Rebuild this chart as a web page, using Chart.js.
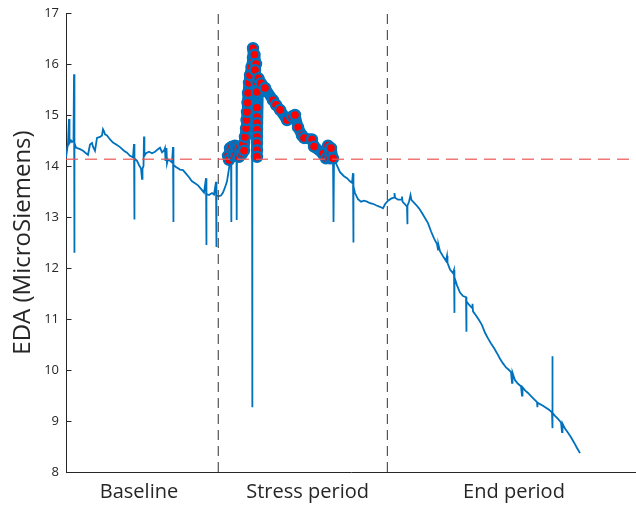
<!DOCTYPE html>
<html><head><meta charset="utf-8">
<script src="https://cdn.jsdelivr.net/npm/chart.js@4.4.0/dist/chart.umd.min.js"></script>
<style>html,body{margin:0;padding:0;background:#fff}#wrap{width:636px;height:505px}</style>
</head><body><div id="wrap"><canvas id="c" width="636" height="505"></canvas></div>
<script>
// ---- data ----
const periodLabels = ['Baseline', 'Stress period', 'End period'];
const periodLabelPos = [73, 241.6, 448];
const periodBounds = [152.3, 321.4];
const threshold = 14.13;
const yTicks = [8, 9, 10, 11, 12, 13, 14, 15, 16, 17];
const xRange = [0, 570];

const edaTime = [0,1,2,3,3.5,5,6,7.5,8,8.3,8.6,10,14,17,20,22,24,26,27,29,31,34,36,37,38,39,41,44,47,51,54,58,61,64,67,68,68.3,68.6,71,73,75,76,76.5,77.5,78,78.4,80,83,86,89,92,94,96,98,99,99.5,100.5,101,102,104,106,107,107.3,107.6,110,114,117,120,123,126,129,132,135,138,140,140.3,140.6,143,146,148,150,150.3,150.6,153,155,157,159,161,163,164.5,165,165.2,165.5,167,169,170.5,170.7,171,173,175,177,179,180,181,182,183,184,185,186,186.2,186.5,187,187.5,188.5,189,190,191,191.3,191.6,194,198,202,206,210,214,218,221,224,227,230,232,234,236,239,242,245,248,251,254,256,258,260,262,263.5,265,266,267,267.2,267.5,267.8,268,270,274,278,281,284,286,287,287.3,287.6,289,292,295,298,301,304,307,310,314,317,319,322,325,328,328.5,329,332,335,336,336.5,339,341,341.3,341.6,343,344.5,345.5,347,350,353,356,359,362,365,368,371,372,372.4,374,377,380,381,381.5,384,387,388,388.3,388.6,391,394,397,400,400.3,400.6,403,406,406.5,407,410,413,416,419,422,425,428,431,434,437,440,443,445,446,446.5,449,452,455,456,456.5,459,462,465,468,471,471.3,471.6,474,477,480,483,486,486.2,486.5,486.8,489,492,495,496,496.5,499,502,505,508,511,514];
const edaValue = [14.16,14.3,14.45,14.92,14.45,14.5,14.47,14.5,15.8,12.3,14.45,14.36,14.33,14.3,14.25,14.22,14.42,14.45,14.38,14.3,14.55,14.57,14.6,14.72,14.68,14.62,14.6,14.52,14.46,14.41,14.37,14.3,14.26,14.2,14.17,14.43,12.95,14.15,14.1,14.02,13.95,13.75,13.95,14.0,14.58,14.2,14.25,14.28,14.25,14.28,14.33,14.36,14.27,14.3,14.35,14.1,14.35,14.05,14.13,14.1,14.07,14.37,12.9,14.02,13.98,13.93,13.92,13.85,13.78,13.7,13.66,13.62,13.55,13.48,13.76,12.45,13.45,13.43,13.47,13.44,13.69,12.41,13.42,13.41,13.42,13.48,13.58,13.7,13.95,14.15,14.3,12.9,14.3,14.35,14.3,14.25,12.94,14.3,14.35,14.3,14.4,14.55,14.8,15.05,15.35,15.6,15.8,15.9,15.95,9.27,16.0,16.2,16.3,16.2,16.1,15.95,15.75,14.18,15.72,15.62,15.53,15.42,15.32,15.2,15.08,15.0,14.93,14.98,15.0,14.97,14.82,14.72,14.64,14.6,14.56,14.55,14.48,14.47,14.4,14.32,14.22,14.18,14.3,14.42,14.38,14.25,14.15,12.9,14.15,12.9,14.12,14.05,13.88,13.8,13.76,13.7,13.67,13.86,12.5,13.6,13.47,13.35,13.3,13.32,13.3,13.27,13.26,13.23,13.2,13.17,13.25,13.32,13.36,13.38,13.47,13.38,13.34,13.34,13.4,13.3,13.25,13.2,12.86,13.22,13.3,13.43,13.33,13.3,13.24,13.17,13.08,12.98,12.88,12.72,12.58,12.47,12.36,12.46,12.33,12.23,12.14,12.24,12.1,11.97,11.9,11.96,11.12,11.82,11.66,11.52,11.45,11.43,10.75,11.35,11.28,11.22,11.3,11.15,11.07,10.98,10.88,10.73,10.62,10.52,10.43,10.33,10.22,10.13,10.05,10.0,9.96,9.75,9.95,9.8,9.73,9.68,9.5,9.66,9.6,9.55,9.49,9.43,9.37,9.27,9.36,9.33,9.3,9.26,9.22,9.17,10.27,8.86,9.16,9.1,9.04,8.97,8.78,8.95,8.85,8.77,8.68,8.58,8.47,8.37];

const markerTime = [162,163,164,166,167,169,170,171,173,174,176,177,178,179,180,180.5,181,181.5,182,183,184,185.5,187,187,188.5,190,189,190.5,191,191,191,191,191,191,191,191,191,192.5,195,199,207,210,214,221,226,229,232,236,238,246,248,257,260,262,264,264,265,267];
const markerValue = [14.2,14.12,14.35,14.38,14.2,14.4,14.22,14.37,14.18,14.38,14.24,14.42,14.3,14.57,14.74,14.9,15.06,15.24,15.43,15.63,15.78,15.94,16.12,16.31,16.18,16.0,15.88,15.65,15.45,15.14,14.96,14.84,14.71,14.57,14.45,14.31,14.18,15.72,15.62,15.53,15.29,15.2,15.1,14.9,14.97,15.0,14.76,14.6,14.55,14.52,14.38,14.24,14.15,14.4,14.15,14.3,14.35,14.15];

// ---- chart ----
const BLUE = '#0072BD';
const AXIS = '#262626';
const toXY = (ts, vs) => ts.map((t, i) => ({ x: t, y: vs[i] }));

const inwardTicks = {
  id: 'inwardTicks',
  afterDraw(chart) {
    const { ctx, chartArea, scales: { y } } = chart;
    ctx.save();
    ctx.strokeStyle = AXIS;
    ctx.lineWidth = 1;
    y.ticks.forEach(t => {
      const py = Math.round(y.getPixelForValue(t.value)) + 0.5;
      ctx.beginPath();
      ctx.moveTo(chartArea.left, py);
      ctx.lineTo(chartArea.left + 5.5, py);
      ctx.stroke();
    });
    ctx.restore();
  }
};

const datasets = [
  { data: toXY(edaTime, edaValue), showLine: true, borderColor: BLUE, borderWidth: 1.8,
    pointRadius: 0, order: 10 },
  { data: toXY(markerTime, markerValue), showLine: true, borderColor: BLUE, borderWidth: 11,
    borderJoinStyle: 'round', borderCapStyle: 'round',
    pointRadius: 5, pointBorderWidth: 2.4, pointBackgroundColor: '#FF0000',
    pointBorderColor: BLUE, order: 9 },
  { data: [{ x: xRange[0], y: threshold }, { x: xRange[1], y: threshold }], showLine: true,
    borderColor: 'rgba(238,85,85,0.8)', borderDash: [12, 7], borderWidth: 1.5, pointRadius: 0, order: 1 }
];
periodBounds.forEach(b => datasets.push({
  data: [{ x: b, y: yTicks[0] }, { x: b, y: yTicks[yTicks.length - 1] }], showLine: true,
  borderColor: '#555555', borderDash: [10, 6], borderWidth: 1.2, pointRadius: 0, order: 2
}));

new Chart(document.getElementById('c'), {
  type: 'scatter',
  data: { datasets },
  plugins: [inwardTicks],
  options: {
    responsive: false,
    animation: false,
    events: [],
    layout: { autoPadding: false, padding: { top: 13, right: 0, left: 0, bottom: 0 } },
    plugins: { legend: { display: false }, tooltip: { enabled: false } },
    scales: {
      x: {
        type: 'linear', min: xRange[0], max: xRange[1],
        grid: { display: false, drawTicks: false },
        border: { display: true, color: AXIS, width: 1 },
        afterBuildTicks: s => { s.ticks = periodLabelPos.map(v => ({ value: v })); },
        ticks: {
          callback: (v, i) => periodLabels[i],
          font: { family: 'Open Sans', size: 20 }, color: AXIS, padding: 8,
          maxRotation: 0, autoSkip: false
        },
        afterFit: s => { s.height = 33; s.paddingLeft = 0; s.paddingRight = 0; }
      },
      y: {
        min: yTicks[0], max: yTicks[yTicks.length - 1],
        afterBuildTicks: s => { s.ticks = yTicks.map(v => ({ value: v })); },
        grid: { display: false, drawTicks: false },
        border: { display: true, color: AXIS, width: 1 },
        ticks: { font: { family: 'Open Sans', size: 13 }, color: AXIS, padding: 7 },
        title: { display: true, text: 'EDA (MicroSiemens)', font: { family: 'Open Sans', size: 24 },
          color: AXIS, padding: { top: 9, bottom: 0 } },
        afterFit: s => { s.width = 66; s.paddingTop = 0; s.paddingBottom = 0; }
      }
    }
  }
});
</script>
</body></html>
